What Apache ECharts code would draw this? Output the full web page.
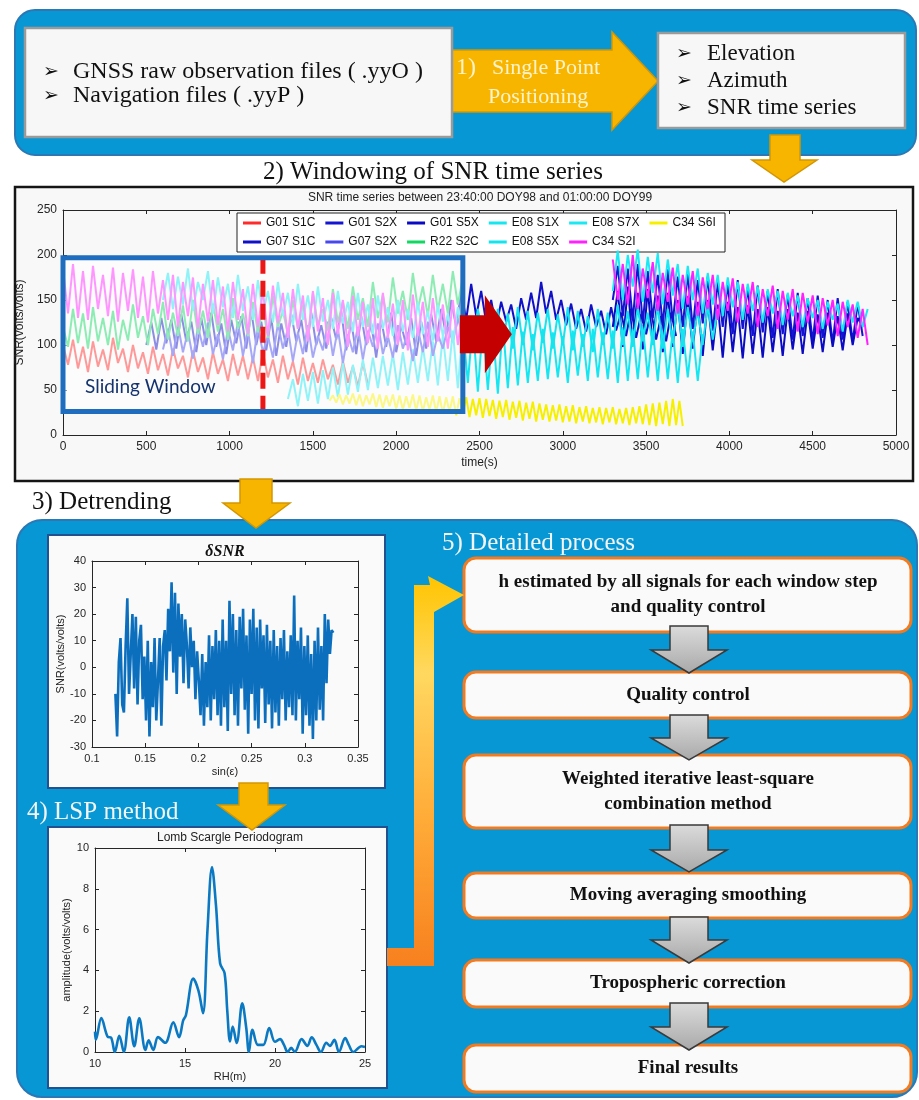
<!DOCTYPE html>
<html><head><meta charset="utf-8">
<script src="https://cdn.jsdelivr.net/npm/echarts@6.0.0/dist/echarts.min.js"></script>
<style>html,body{margin:0;padding:0;background:#fff}#c{width:919px;height:1100px}</style>
</head><body><div id="c"></div>
<script>
// ---------------- DATA ----------------
const snrTicksX = [0,500,1000,1500,2000,2500,3000,3500,4000,4500,5000];
const snrNames = ['G01 S1C','G01 S2X','G01 S5X','E08 S1X','E08 S7X','C34 S6I','G07 S1C','G07 S2X','R22 S2C','E08 S5X','C34 S2I'];
const legendRow1 = ['G01 S1C','G01 S2X','G01 S5X','E08 S1X','E08 S7X','C34 S6I'];
const legendRow2 = ['G07 S1C','G07 S2X','R22 S2C','E08 S5X','C34 S2I'];
const dtSNR = 30;      // sample spacing (s)
const dtC34S6I = 20;   // sample spacing (s)

const g01s1cT0 = 0;
const g01s1c = [100,78,106,74,98,70,104,76,95,72,108,80,96,70,100,74,92,68,98,72,90,66,96,74,88,64,94,70,86,62,92,68,84,60,90,66,88,62,86,60,92,64,84,58,88,62,82,56,86,60,80,58,84,62,78,56,82,58,76,54,80,56];
const g01s2xT0 = 3300;
const g01s2x = [150,188,132,185,128,190,125,182,130,178,122,184,126,176,120,180,118,172,124,176,116,170,120,168,112,172,118,164,110,166,114,160,108,162,112,156,106,158,110,152,104,155,108,150,102,152,106,148,104,146,110];
const g01s5xT0 = 3300;
const g01s5x = [120,160,98,165,102,158,95,162,100,155,92,158,98,150,90,154,96,148,88,150,94,145,86,148,92,142,85,144,90,140,86,142,92,138,88,140,95,136,90,138,96,134,92,136,98,132,94,135,100,130,120];
const e08s1xT0 = 1350;
const e08s1x = [40,62,32,68,38,70,35,72,40,75,42,80,45,78,48,84,50,86,52,88,55,90,50,92,56,95,58,98,60,104,55,110,60,116,52,120,58,124,48,122,50,118,46,124,52,120,55,115,58,112,60,118,62,114,64,110,58,116,66,112,60,118,64,114,62,116,58,120,60,118,62,122,64,118,60,120,62,116,58,118,64,115,60,112];
const e08s7xT0 = 3300;
const e08s7x = [160,205,150,200,165,206,148,198,158,202,145,195,155,190,140,188,150,185,135,180,145,178,132,175,142,170,128,168,138,165,125,162,135,160,122,158,132,155,120,152,130,150,118,148,128,146,115,150,125,148,120,140];
const c34s6iT0 = 1600;
const c34s6i = [38,44,36,45,34,44,35,46,33,45,32,44,34,46,31,45,30,44,32,45,29,44,28,43,30,45,27,44,26,42,28,44,25,43,24,42,26,43,22,41,24,42,20,40,22,41,19,40,21,39,18,38,20,39,17,37,19,38,16,36,18,37,15,35,17,34,15,33,16,34,14,32,15,33,13,31,15,32,13,30,14,31,12,30,14,31,12,29,13,30,11,31,13,32,12,34,11,35,10,36,12,38,10,40,11,38,10];
const g07s1cT0 = 500;
const g07s1c = [100,125,95,130,102,128,96,134,104,126,92,130,100,136,98,124,90,128,102,132,96,138,100,126,94,130,88,124,98,134,104,128,92,136,100,122,96,130,106,138,94,126,90,132,100,124,86,128,98,136,92,122,100,130,88,126,96,134,104,140,110,150,120,160,128,168,132,160,125,150,120,148,126,145,118,152,128,158,130,170,135,160,128,150,122,146,118,140,115,145,120,138,112,142,116,136,110,140,108,134,112,138,106,132,104,136,110];
const g07s2xT0 = 600;
const g07s2x = [95,118,88,122,92,115,85,120,98,125,90,112,84,118,94,126,88,116,80,120,92,110,86,124,96,118,82,114,90,122,86,110,94,126,88,118,80,112,92,120,84,116,98,124,90,110,86,122,96,114,82,118,92,126,88,112,96,120,104,130,110];
const r22s2cT0 = 0;
const r22s2c = [120,98,140,102,135,96,142,104,130,100,138,95,128,105,145,108,132,100,140,112,148,106,136,110,144,104,150,112,138,108,146,115,140,106,152,118,135,110,148,114,142,108,155,120,138,112,150,118,145,110,158,122,140,116,162,125,148,118,165,128,152,120,170,130,156,125,175,135,160,128,180,140,165,132,178,138,168,135,182,145,175];
const e08s5xT0 = 600;
const e08s5x = [150,180,140,176,145,185,138,170,150,182,135,175,142,168,130,178,138,165,128,172,135,160,125,170,132,158,122,168,128,155,120,165,126,150,118,160,124,148,115,158,120,145,112,155,118,142,110,150,115,140,108,148,112,138,105,145,110,135,102,142,108,130,100,140,112,145,98,140,104,135,96,142,100,138,94,136,102,140,96,134,100,142,94,138,98,132,92,140,100,136,96,145,100,138,98,142,104,136,100,144,96,140,102,146,98,142,104,138,100,145,106,140];
const c34s2iAT0 = 0;
const c34s2iA = [185,135,190,130,182,128,188,140,178,132,186,126,180,138,184,130,176,125,182,135,172,128,178,120,170,132,175,118,168,126,172,122,165,115,170,128,162,112,168,120,160,110,166,124,158,108,162,118,155,104,160,115,152,100,158,112,150,98,155,110,148,102,152,96,158,108,146,100,150,94,156,110,148,98,152,104,145,96,150,100,142];
const c34s2iBT0 = 3300;
const c34s2iB = [195,150,190,145,200,140,185,152,192,138,180,148,186,135,178,145,182,132,175,140,178,128,170,138,174,125,168,135,170,120,162,132,166,118,160,128,162,115,158,125,155,112,152,122,150,110,148,120,145,108,140,100];

// sliding window (data units)
const winStart = 0, winEnd = 2400, winTop = 197, winBottom = 26, winMarker = 1200, arrowLevel = 112;

// delta SNR vs sin(elevation)
const dsnrSin0 = 0.122;
const dsnrSinStep = 0.0016;
const dsnrValues = [-10,-26,2,11,-14,-17,8,26,-10,5,20,-8,19,-14,10,16,-12,4,-20,10,-26,2,-15,11,-20,-5,11,-22,8,14,-5,22,6,32,-2,28,-10,24,4,20,-6,18,8,-8,15,0,10,-12,6,-5,-18,5,-22,2,-15,12,-20,8,-12,14,-18,10,-22,18,-15,10,-24,25,-10,20,-18,14,-22,19,-8,22,-16,12,-25,18,-10,22,-20,15,-23,18,-8,12,-21,16,-14,10,-23,14,-17,8,-22,11,-12,14,-20,6,-15,12,-18,27,-20,10,-12,15,-25,8,-18,12,-22,5,-27,10,-20,15,-16,8,-20,20,-6,18,5,14,13];

// Lomb Scargle periodogram
const lspRH  = [10,10.05,10.35,10.7,10.9,11.1,11.35,11.6,11.9,12.18,12.46,12.8,12.98,13.24,13.5,13.9,14.35,14.67,14.9,15.05,15.46,15.75,16.0,16.25,16.5,16.72,16.95,17.2,17.35,17.5,17.65,17.87,18.18,18.4,18.55,18.75,19.05,19.35,19.68,20.0,20.28,20.5,20.7,20.9,21.1,21.48,21.8,22.04,22.3,22.55,22.85,23.05,23.3,23.55,23.9,24.1,24.35,24.8,25];
const lspAmp = [1.0,0.6,1.66,0.75,0.7,0.0,0.8,0.0,1.7,0.28,1.65,0.1,0.57,0.1,0.73,0.45,1.45,0.73,1.55,1.8,3.6,3.0,1.9,6.0,9.07,7.2,4.35,3.86,2.0,0.52,1.25,0.44,2.39,1.2,0.0,1.09,0.35,0.35,1.17,0.5,0.63,0.35,0.0,0.2,0.0,0.63,0.3,0.72,0.35,0.0,0.45,0.3,0.6,0.0,0.68,0.35,0.0,0.28,0.25];

// flowchart texts
const stepTexts = [
  ['h estimated by all signals for each window step','and quality control'],
  ['Quality control'],
  ['Weighted iterative least-square','combination method'],
  ['Moving averaging smoothing'],
  ['Tropospheric correction'],
  ['Final results']
];

// ---------------- STYLE / BUILD ----------------
const SERIF = '"Liberation Serif","Times New Roman",serif';
const SANS = '"Liberation Sans",Arial,sans-serif';
const AX = '#262626';
const plainNum = v => String(+(+v).toFixed(4));

function seg(t0, dt, vals){ return vals.map((v,i)=>[t0+i*dt, v]); }

const snrDefs = [
  {name:'G01 S1C', color:'#ff2a2a', data: seg(g01s1cT0, dtSNR, g01s1c)},
  {name:'G01 S2X', color:'#1414d2', data: seg(g01s2xT0, dtSNR, g01s2x)},
  {name:'G01 S5X', color:'#0a0ac4', data: seg(g01s5xT0, dtSNR, g01s5x)},
  {name:'E08 S1X', color:'#16e6f0', data: seg(e08s1xT0, dtSNR, e08s1x)},
  {name:'E08 S7X', color:'#1ae8f2', data: seg(e08s7xT0, dtSNR, e08s7x)},
  {name:'C34 S6I', color:'#f6f000', data: seg(c34s6iT0, dtC34S6I, c34s6i)},
  {name:'G07 S1C', color:'#1010c8', data: seg(g07s1cT0, dtSNR, g07s1c)},
  {name:'G07 S2X', color:'#4848ee', data: seg(g07s2xT0, dtSNR, g07s2x)},
  {name:'R22 S2C', color:'#10d860', data: seg(r22s2cT0, dtSNR, r22s2c)},
  {name:'E08 S5X', color:'#14e4ee', data: seg(e08s5xT0, dtSNR, e08s5x)},
  {name:'C34 S2I', color:'#ff22ff', data: seg(c34s2iAT0, dtSNR, c34s2iA).concat([[c34s2iAT0 + c34s2iA.length*dtSNR, null]], seg(c34s2iBT0, dtSNR, c34s2iB))}
];

function axX(grid, min, max, interval, name, gap, fs, top){
  return {type:'value', gridIndex:grid, position: top?'top':'bottom', min, max, interval,
    name: top?'':name, nameLocation:'middle', nameGap:gap,
    nameTextStyle:{fontSize:fs, fontFamily:SANS, color:'#222'},
    axisLine:{show:true, onZero:false, lineStyle:{color:AX, width:1}},
    axisTick:{show:true, inside:true, length:4, lineStyle:{color:AX}},
    axisLabel:{show:!top, fontSize:fs, fontFamily:SANS, color:AX, margin:6, formatter:plainNum},
    splitLine:{show:false}};
}
function axY(grid, min, max, interval, name, gap, fs, right){
  return {type:'value', gridIndex:grid, position: right?'right':'left', min, max, interval,
    name: right?'':name, nameLocation:'middle', nameGap:gap, nameRotate:90,
    nameTextStyle:{fontSize:fs, fontFamily:SANS, color:'#222'},
    axisLine:{show:true, onZero:false, lineStyle:{color:AX, width:1}},
    axisTick:{show:true, inside:true, length:4, lineStyle:{color:AX}},
    axisLabel:{show:!right, fontSize:fs, fontFamily:SANS, color:AX, margin:6, formatter:plainNum},
    splitLine:{show:false}};
}

// graphic helpers
const G = [];
function R(x,y,w,h,st,z,r){ G.push({type:'rect', z:z, silent:true, shape:{x:x,y:y,width:w,height:h,r:r||0}, style:st}); }
function P(pts,st,z){ G.push({type:'polygon', z:z, silent:true, shape:{points:pts}, style:st}); }
function T(x,y,s,font,fill,align,z){ G.push({type:'text', z:(z===undefined?1:z), x:x, y:y, silent:true, style:{text:s, font:font, fill:fill, align:align||'left', verticalAlign:'middle'}}); }

const PANEL = {fill:'#0797d5', stroke:'#2b78b4', lineWidth:2};
const GOLD = {fill:'#f8b500', stroke:'#d49600', lineWidth:1.5};

// ---- top panel
R(15,10,901,145, PANEL, -10, 20);
P([[445,50],[612,50],[612,32],[658,81],[612,130],[612,112],[445,112]], GOLD, -9.5);
R(25,28,427,109, {fill:'#f7f7f7', stroke:'#9a9a9a', lineWidth:2.5}, -9);
R(658,33,247,95, {fill:'#f7f7f7', stroke:'#9a9a9a', lineWidth:2.5}, -9);
const F24 = '24px ' + SERIF, F23 = '23px ' + SERIF, F25 = '25px ' + SERIF, F22 = '22px ' + SERIF;
const BUL = 'bold 19px "DejaVu Sans"';
T(43,72,'➢',BUL,'#111'); T(73,72,'GNSS raw observation files ( .yyO )',F24,'#111');
T(43,96,'➢',BUL,'#111'); T(73,96,'Navigation files ( .yyP )',F24,'#111');
T(456,68,'1)',F24,'#fff3cc'); T(492,68,'Single Point',F22,'#fff3cc'); T(488,97,'Positioning',F22,'#fff3cc');
T(676,54,'➢',BUL,'#111'); T(707,54,'Elevation',F23,'#111');
T(676,81,'➢',BUL,'#111'); T(707,81,'Azimuth',F23,'#111');
T(676,108,'➢',BUL,'#111'); T(707,108,'SNR time series',F23,'#111');
P([[770,135],[800,135],[800,160],[817,160],[784,182],[752,160],[770,160]], GOLD, -5);
T(263,172,'2) Windowing of SNR time series',F25,'#111');

// ---- SNR frame
R(15,187,898,294, {fill:'#f8f8f8', stroke:'#151515', lineWidth:2.5}, -10);
R(237,213,488,39, {fill:'#ffffff', stroke:'#222', lineWidth:1}, 3);

// ---- bottom panel
T(32,502,'3) Detrending',F25,'#111');
R(17,520,900,577, PANEL, -10, 25);
P([[240,479],[272,479],[272,503],[290,503],[256,528],[223,503],[240,503]], GOLD, -4);
R(48,535,337,253, {fill:'#fafafa', stroke:'#23508f', lineWidth:2}, -6);
R(48,827,339,261, {fill:'#fafafa', stroke:'#23508f', lineWidth:2}, -6);
P([[239,783],[268,783],[268,805],[285,805],[252,830],[218,805],[239,805]], GOLD, -4);
T(27,812,'4) LSP method',F25,'#f4f4f4');
T(442,543,'5) Detailed process',F25,'#f4f4f4');
P([[414,585],[430,585],[428,576],[464,595],[434,612],[434,966],[387,966],[387,948],[414,948]],
  {fill:{type:'linear',x:0,y:0,x2:0,y2:1,colorStops:[{offset:0,color:'#ffc400'},{offset:0.25,color:'#ffd860'},{offset:0.6,color:'#ffae3a'},{offset:1,color:'#f7801e'}]}, lineWidth:0}, -5);

// ---- flowchart boxes
const boxY = [[558,74],[672,46],[755,73],[873,45],[960,47],[1045,47]];
const BOXF = 'bold 19px ' + SERIF;
boxY.forEach((b,i)=>{
  R(464,b[0],447,b[1], {fill:'#fafafa', stroke:'#f47a20', lineWidth:3}, -6, 12);
  const lines = stepTexts[i];
  const cy = b[0] + b[1]/2;
  if (lines.length === 1) T(688, cy, lines[0], BOXF, '#111', 'center');
  else { T(688, cy-12.5, lines[0], BOXF, '#111', 'center'); T(688, cy+12.5, lines[1], BOXF, '#111', 'center'); }
});
const arrowsY = [[626,650,673],[715,738,760],[825,850,872],[917,940,963],[1003,1027,1050]];
arrowsY.forEach(a=>{
  P([[670,a[0]],[708,a[0]],[708,a[1]],[727,a[1]],[689,a[2]],[651,a[1]],[670,a[1]]],
    {fill:{type:'linear',x:0,y:0,x2:0,y2:1,colorStops:[{offset:0,color:'#dcdcdc'},{offset:1,color:'#a8a8a8'}]}, stroke:'#3a3a3a', lineWidth:1.5}, -4);
});

// ---------------- OPTION ----------------
const option = {
  animation:false,
  backgroundColor:'#ffffff',
  title:[
    {text:'SNR time series between 23:40:00 DOY98 and 01:00:00 DOY99', left:480, top:192, padding:0, textAlign:'center',
      textStyle:{fontSize:12, fontWeight:'normal', fontFamily:SANS, color:'#222'}},
    {text:'δSNR', left:225, top:544, padding:0, textAlign:'center',
      textStyle:{fontSize:16, fontStyle:'italic', fontWeight:'bold', fontFamily:SERIF, color:'#111'}},
    {text:'Lomb Scargle Periodogram', left:230, top:832, padding:0, textAlign:'center',
      textStyle:{fontSize:12, fontWeight:'normal', fontFamily:SANS, color:'#222'}}
  ],
  legend:[
    {data:legendRow1, left:243, top:217, padding:0, itemGap:10, itemWidth:18, itemHeight:3, icon:'rect', selectedMode:false, z:5,
      textStyle:{fontSize:12, fontFamily:SANS, color:'#111'}},
    {data:legendRow2, left:243, top:236, padding:0, itemGap:10, itemWidth:18, itemHeight:3, icon:'rect', selectedMode:false, z:5,
      textStyle:{fontSize:12, fontFamily:SANS, color:'#111'}}
  ],
  grid:[
    {left:63, top:210, width:833, height:225},
    {left:92, top:561, width:266, height:186},
    {left:95, top:848, width:270, height:204}
  ],
  xAxis:[
    axX(0, snrTicksX[0], snrTicksX[snrTicksX.length-1], 500, 'time(s)', 22, 12),
    axX(0, 0, 5000, 500, '', 0, 12, true),
    axX(1, 0.1, 0.35, 0.05, 'sin(ε)', 19, 11),
    axX(1, 0.1, 0.35, 0.05, '', 0, 11, true),
    axX(2, 10, 25, 5, 'RH(m)', 19, 11),
    axX(2, 10, 25, 5, '', 0, 11, true)
  ],
  yAxis:[
    axY(0, 0, 250, 50, 'SNR(volts/volts)', 30, 12),
    axY(0, 0, 250, 50, '', 0, 12, true),
    axY(1, -30, 40, 10, 'SNR(volts/volts)', 24, 11),
    axY(1, -30, 40, 10, '', 0, 11, true),
    axY(2, 0, 10, 2, 'amplitude(volts/volts)', 14, 11),
    axY(2, 0, 10, 2, '', 0, 11, true)
  ],
  series: snrDefs.map(d=>({
    type:'line', name:d.name, xAxisIndex:0, yAxisIndex:0, data:d.data, showSymbol:false, symbol:'none',
    lineStyle:{color:d.color, width:2}, itemStyle:{color:d.color}, connectNulls:false
  })).concat([
    {type:'line', name:'δSNR', xAxisIndex:2, yAxisIndex:2, showSymbol:false, symbol:'none',
      data: dsnrValues.map((v,i)=>[dsnrSin0 + i*dsnrSinStep, v]),
      lineStyle:{color:'#0b6fbd', width:2.6}},
    {type:'line', name:'LSP', xAxisIndex:4, yAxisIndex:4, showSymbol:false, symbol:'none', smooth:0.35,
      data: lspRH.map((x,i)=>[x, lspAmp[i]]),
      lineStyle:{color:'#0b78c2', width:2.6}}
  ]),
  graphic: G
};

const chart = echarts.init(document.getElementById('c'), null, {renderer:'canvas'});
chart.setOption(option);

// sliding window overlay positioned through the SNR axes
const pTL = chart.convertToPixel({gridIndex:0}, [winStart, winTop]);
const pBR = chart.convertToPixel({gridIndex:0}, [winEnd, winBottom]);
const pMk = chart.convertToPixel({gridIndex:0}, [winMarker, winTop]);
const pAr = chart.convertToPixel({gridIndex:0}, [winEnd, arrowLevel]);
const G2 = [
  {type:'rect', z:10, silent:true, shape:{x:pTL[0], y:pTL[1], width:pBR[0]-pTL[0], height:pBR[1]-pTL[1]}, style:{fill:'rgba(255,255,255,0.52)', stroke:'none'}},
  {type:'line', z:11, silent:true, shape:{x1:pMk[0], y1:pTL[1], x2:pMk[0], y2:pBR[1]}, style:{stroke:'#ee1515', lineWidth:5, lineDash:[16,7]}},
  {type:'rect', z:12, silent:true, shape:{x:pTL[0], y:pTL[1], width:pBR[0]-pTL[0], height:pBR[1]-pTL[1]}, style:{fill:'none', stroke:'#1f6dbf', lineWidth:5}},
  {type:'polygon', z:12, silent:true, shape:{points:[[pAr[0]-3,pAr[1]-19],[pAr[0]+22,pAr[1]-19],[pAr[0]+22,pAr[1]-39],[pAr[0]+49,pAr[1]],[pAr[0]+22,pAr[1]+39],[pAr[0]+22,pAr[1]+19],[pAr[0]-3,pAr[1]+19]]}, style:{fill:'#c40000'}},
  {type:'text', z:12, silent:true, x:pTL[0]+22, y:pBR[1]-25, style:{text:'Sliding Window', font:'19px Lato', fill:'#14336e', align:'left', verticalAlign:'middle'}}
];
chart.setOption({graphic: G.concat(G2)});
</script></body></html>
